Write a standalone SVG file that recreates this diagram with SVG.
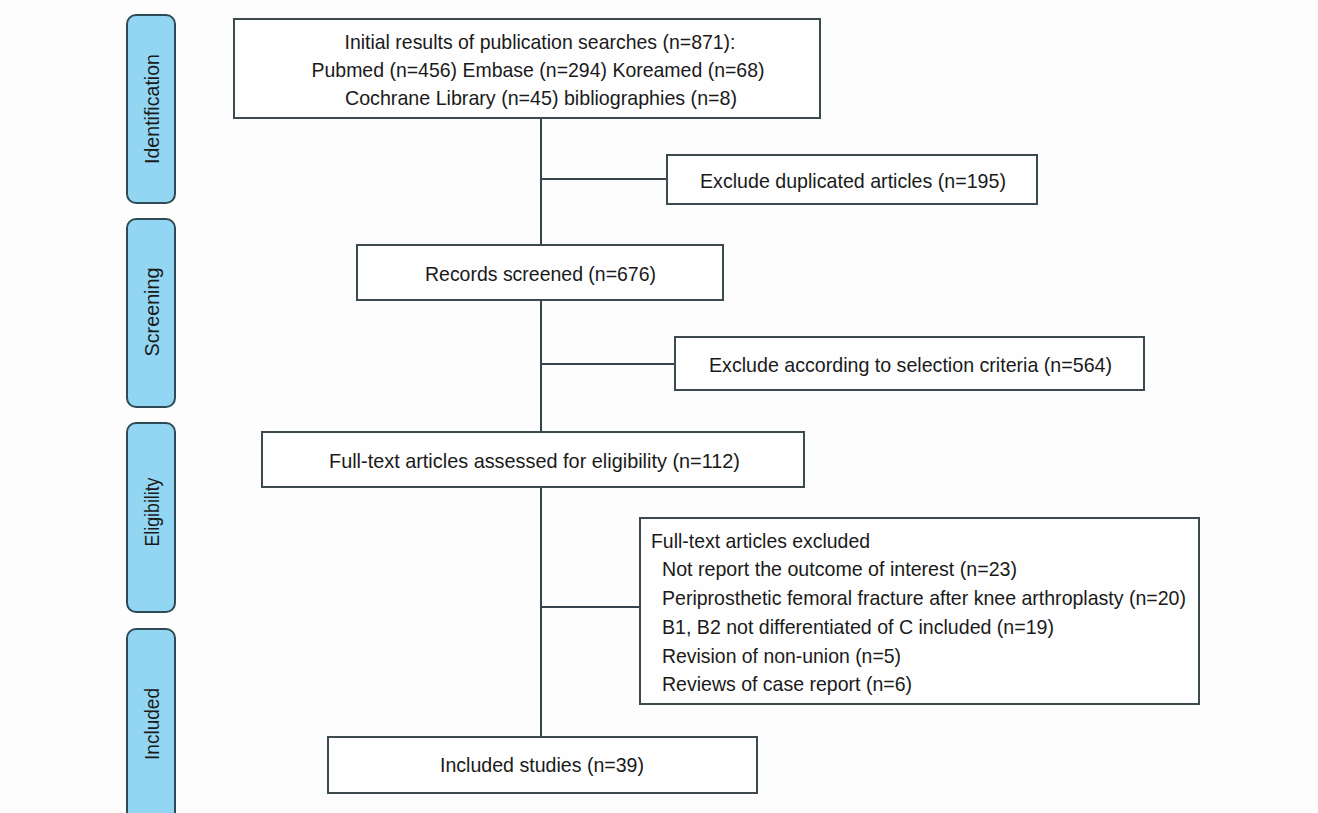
<svg xmlns="http://www.w3.org/2000/svg" width="1318" height="813" viewBox="0 0 1318 813">
<style>
.bg{fill:#fdfdfe}
.stage{fill:#93d6f3;stroke:#2e4a55;stroke-width:2}
.box{fill:#fefefe;stroke:#3c4a50;stroke-width:2}
.ln{stroke:#34444a;stroke-width:2;fill:none}
text{font-family:"Liberation Sans",Arial,Helvetica,sans-serif;font-size:21px;fill:#1a1a1a}
.c{text-anchor:middle}
</style>
<rect class="bg" x="0" y="0" width="1318" height="813"/>
<g id="connectors">
<line class="ln" x1="541" y1="118" x2="541" y2="737"/>
<line class="ln" x1="541" y1="179" x2="667" y2="179"/>
<line class="ln" x1="541" y1="364" x2="675" y2="364"/>
<line class="ln" x1="541" y1="607" x2="640" y2="607"/>
</g>
<g id="stage-identification">
<rect class="stage" x="127" y="15" width="48" height="188" rx="9"/>
<text class="c" transform="translate(159,109) rotate(-90)" textLength="110" lengthAdjust="spacingAndGlyphs">Identification</text>
</g>
<g id="stage-screening">
<rect class="stage" x="127" y="219" width="48" height="188" rx="9"/>
<text class="c" transform="translate(159,312) rotate(-90)" textLength="89" lengthAdjust="spacingAndGlyphs">Screening</text>
</g>
<g id="stage-eligibility">
<rect class="stage" x="127" y="423" width="48" height="189" rx="9"/>
<text class="c" transform="translate(159,512) rotate(-90)" textLength="69" lengthAdjust="spacingAndGlyphs">Eligibility</text>
</g>
<g id="stage-included">
<rect class="stage" x="127" y="629" width="48" height="192" rx="9"/>
<text class="c" transform="translate(159,724) rotate(-90)" textLength="72" lengthAdjust="spacingAndGlyphs">Included</text>
</g>
<g id="node-initial">
<rect class="box" x="234" y="19" width="586" height="99"/>
<text class="c" x="540" y="49" textLength="391" lengthAdjust="spacingAndGlyphs">Initial results of publication searches (n=871):</text>
<text class="c" x="538" y="77" textLength="453" lengthAdjust="spacingAndGlyphs">Pubmed (n=456) Embase (n=294) Koreamed (n=68)</text>
<text class="c" x="541" y="105" textLength="392" lengthAdjust="spacingAndGlyphs">Cochrane Library (n=45) bibliographies (n=8)</text>
</g>
<g id="node-duplicates">
<rect class="box" x="667" y="155" width="370" height="49"/>
<text class="c" x="853" y="188" textLength="306" lengthAdjust="spacingAndGlyphs">Exclude duplicated articles (n=195)</text>
</g>
<g id="node-screened">
<rect class="box" x="357" y="245" width="366" height="55"/>
<text class="c" x="540.5" y="281" textLength="231" lengthAdjust="spacingAndGlyphs">Records screened (n=676)</text>
</g>
<g id="node-criteria">
<rect class="box" x="675" y="337" width="469" height="53"/>
<text class="c" x="910.5" y="372" textLength="403" lengthAdjust="spacingAndGlyphs">Exclude according to selection criteria (n=564)</text>
</g>
<g id="node-fulltext">
<rect class="box" x="262" y="432" width="542" height="55"/>
<text class="c" x="534.5" y="468" textLength="411" lengthAdjust="spacingAndGlyphs">Full-text articles assessed for eligibility (n=112)</text>
</g>
<g id="node-excluded">
<rect class="box" x="640" y="518" width="559" height="186"/>
<text x="651" y="548" textLength="219" lengthAdjust="spacingAndGlyphs">Full-text articles excluded</text>
<text x="662" y="576" textLength="355" lengthAdjust="spacingAndGlyphs">Not report the outcome of interest (n=23)</text>
<text x="662" y="605" textLength="524" lengthAdjust="spacingAndGlyphs">Periprosthetic femoral fracture after knee arthroplasty (n=20)</text>
<text x="662" y="634" textLength="392" lengthAdjust="spacingAndGlyphs">B1, B2 not differentiated of C included (n=19)</text>
<text x="662" y="663" textLength="239" lengthAdjust="spacingAndGlyphs">Revision of non-union (n=5)</text>
<text x="662" y="691" textLength="250" lengthAdjust="spacingAndGlyphs">Reviews of case report (n=6)</text>
</g>
<g id="node-included">
<rect class="box" x="328" y="737" width="429" height="56"/>
<text class="c" x="542" y="772" textLength="204" lengthAdjust="spacingAndGlyphs">Included studies (n=39)</text>
</g>
</svg>
